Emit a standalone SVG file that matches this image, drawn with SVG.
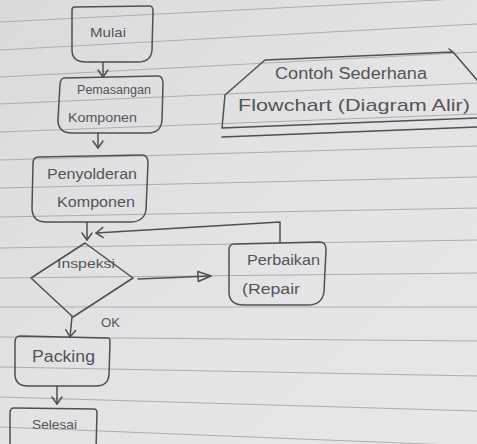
<svg xmlns="http://www.w3.org/2000/svg" width="477" height="444" viewBox="0 0 477 444">
<defs>
<linearGradient id="paper" x1="0" y1="0" x2="1" y2="1">
<stop offset="0" stop-color="#dadadc"/>
<stop offset="0.5" stop-color="#e3e3e5"/>
<stop offset="1" stop-color="#e7e7e9"/>
</linearGradient>
<marker id="v" viewBox="0 0 8 10" refX="7" refY="5" markerWidth="8" markerHeight="10" markerUnits="userSpaceOnUse" orient="auto" overflow="visible">
<path d="M0,0 L7,5 L0,10" fill="none" stroke="#505052" stroke-width="1.5" stroke-linecap="round" stroke-linejoin="round"/>
</marker>
<marker id="tri" viewBox="0 0 14 10" refX="13" refY="5" markerWidth="14" markerHeight="10" markerUnits="userSpaceOnUse" orient="auto" overflow="visible">
<path d="M0,0 L13,5 L0,10 Z" fill="none" stroke="#505052" stroke-width="1.5" stroke-linejoin="round"/>
</marker>
</defs>
<style>
.rule{stroke:#adadb0;stroke-width:1;fill:none}
.pen{fill:none;stroke:#505052;stroke-width:1.5;stroke-linecap:round;stroke-linejoin:round}
.t{font-family:"Liberation Sans","DejaVu Sans",sans-serif;fill:#545456}
</style>
<rect x="0" y="0" width="477" height="444" fill="url(#paper)"/>
<g id="ruled-lines">
<line class="rule" x1="0" y1="22" x2="477" y2="-2"/>
<line class="rule" x1="0" y1="50" x2="477" y2="24"/>
<line class="rule" x1="0" y1="77" x2="477" y2="52"/>
<line class="rule" x1="0" y1="104" x2="477" y2="83"/>
<line class="rule" x1="0" y1="132" x2="477" y2="114"/>
<line class="rule" x1="0" y1="160" x2="477" y2="146"/>
<line class="rule" x1="0" y1="188" x2="477" y2="177"/>
<line class="rule" x1="0" y1="217" x2="477" y2="208"/>
<line class="rule" x1="0" y1="248" x2="477" y2="240"/>
<line class="rule" x1="0" y1="278" x2="477" y2="273"/>
<line class="rule" x1="0" y1="307" x2="477" y2="307"/>
<line class="rule" x1="0" y1="337" x2="477" y2="341"/>
<line class="rule" x1="0" y1="367" x2="477" y2="376"/>
<line class="rule" x1="0" y1="397" x2="477" y2="411"/>
<line class="rule" x1="0" y1="427" x2="477" y2="446"/>
</g>
<g id="title">
<path class="pen" d="M265,60 L453,52 M265,60 L225,95 L222,128 L477,118 M222,137 L477,127 M449,49 L453,52 L477,80"/>
<text class="t" x="275" y="79" font-size="16" textLength="152" lengthAdjust="spacingAndGlyphs">Contoh Sederhana</text>
<text class="t" x="238" y="111" font-size="17" textLength="232" lengthAdjust="spacingAndGlyphs">Flowchart (Diagram Alir)</text>
</g>
<g id="connectors">
<path class="pen" d="M103,62 L103,77" marker-end="url(#v)"/>
<path class="pen" d="M98,133 L98,148" marker-end="url(#v)"/>
<path class="pen" d="M87,222 L87,240" marker-end="url(#v)"/>
<path class="pen" d="M280,242 L280,222 L96,233" marker-end="url(#v)"/>
<path class="pen" d="M138,279 L211,276" marker-end="url(#tri)"/>
<path class="pen" d="M72,317 L70,337" marker-end="url(#v)"/>
<path class="pen" d="M57,386 L57,404" marker-end="url(#v)"/>
<text class="t" x="101" y="327" font-size="12" textLength="19" lengthAdjust="spacingAndGlyphs">OK</text>
</g>
<g id="mulai">
<path class="pen" d="M75,7 L150,6 Q153,6 153,12 L152,50 Q151,62 138,62 L86,62 Q72,62 72,50 L72,10 Q72,7 75,7 Z"/>
<text class="t" x="90" y="37" font-size="13" textLength="36" lengthAdjust="spacingAndGlyphs">Mulai</text>
</g>
<g id="pemasangan">
<path class="pen" d="M64,78 L158,76 Q163,76 163,84 L162,120 Q161,133 148,133 L72,133 Q58,133 58,120 L60,84 Q61,78 64,78 Z"/>
<text class="t" x="77" y="94" font-size="12" textLength="74" lengthAdjust="spacingAndGlyphs">Pemasangan</text>
<text class="t" x="68" y="122" font-size="13" textLength="69" lengthAdjust="spacingAndGlyphs">Komponen</text>
</g>
<g id="penyolderan">
<path class="pen" d="M38,157 L142,155 Q148,155 148,163 L146,210 Q144,222 130,222 L46,222 Q32,222 32,208 L33,164 Q33,157 38,157 Z"/>
<text class="t" x="47" y="179" font-size="14" textLength="90" lengthAdjust="spacingAndGlyphs">Penyolderan</text>
<text class="t" x="57" y="207" font-size="14" textLength="78" lengthAdjust="spacingAndGlyphs">Komponen</text>
</g>
<g id="inspeksi">
<path class="pen" d="M85,243 L133,278 L73,317 L31,278 Z"/>
<text class="t" x="57" y="268" font-size="13" textLength="58" lengthAdjust="spacingAndGlyphs">Inspeksi</text>
</g>
<g id="perbaikan">
<path class="pen" d="M234,244 L320,242 Q326,242 326,250 L324,292 Q322,305 308,305 L244,305 Q229,305 229,292 L229,250 Q229,244 234,244 Z"/>
<text class="t" x="247" y="265" font-size="14" textLength="73" lengthAdjust="spacingAndGlyphs">Perbaikan</text>
<text class="t" x="242" y="294" font-size="14" textLength="58" lengthAdjust="spacingAndGlyphs">(Repair</text>
</g>
<g id="packing">
<path class="pen" d="M20,336 L108,338 Q110,338 110,342 L109,375 Q108,386 96,386 L28,386 Q15,386 15,374 L15,342 Q15,336 20,336 Z"/>
<text class="t" x="32" y="362" font-size="16" textLength="63" lengthAdjust="spacingAndGlyphs">Packing</text>
</g>
<g id="selesai">
<path class="pen" d="M10,450 L10,413 Q10,408 14,408 L94,409 Q97,409 97,413 L96,450"/>
<text class="t" x="32" y="429" font-size="13" textLength="45" lengthAdjust="spacingAndGlyphs">Selesai</text>
</g>
</svg>
